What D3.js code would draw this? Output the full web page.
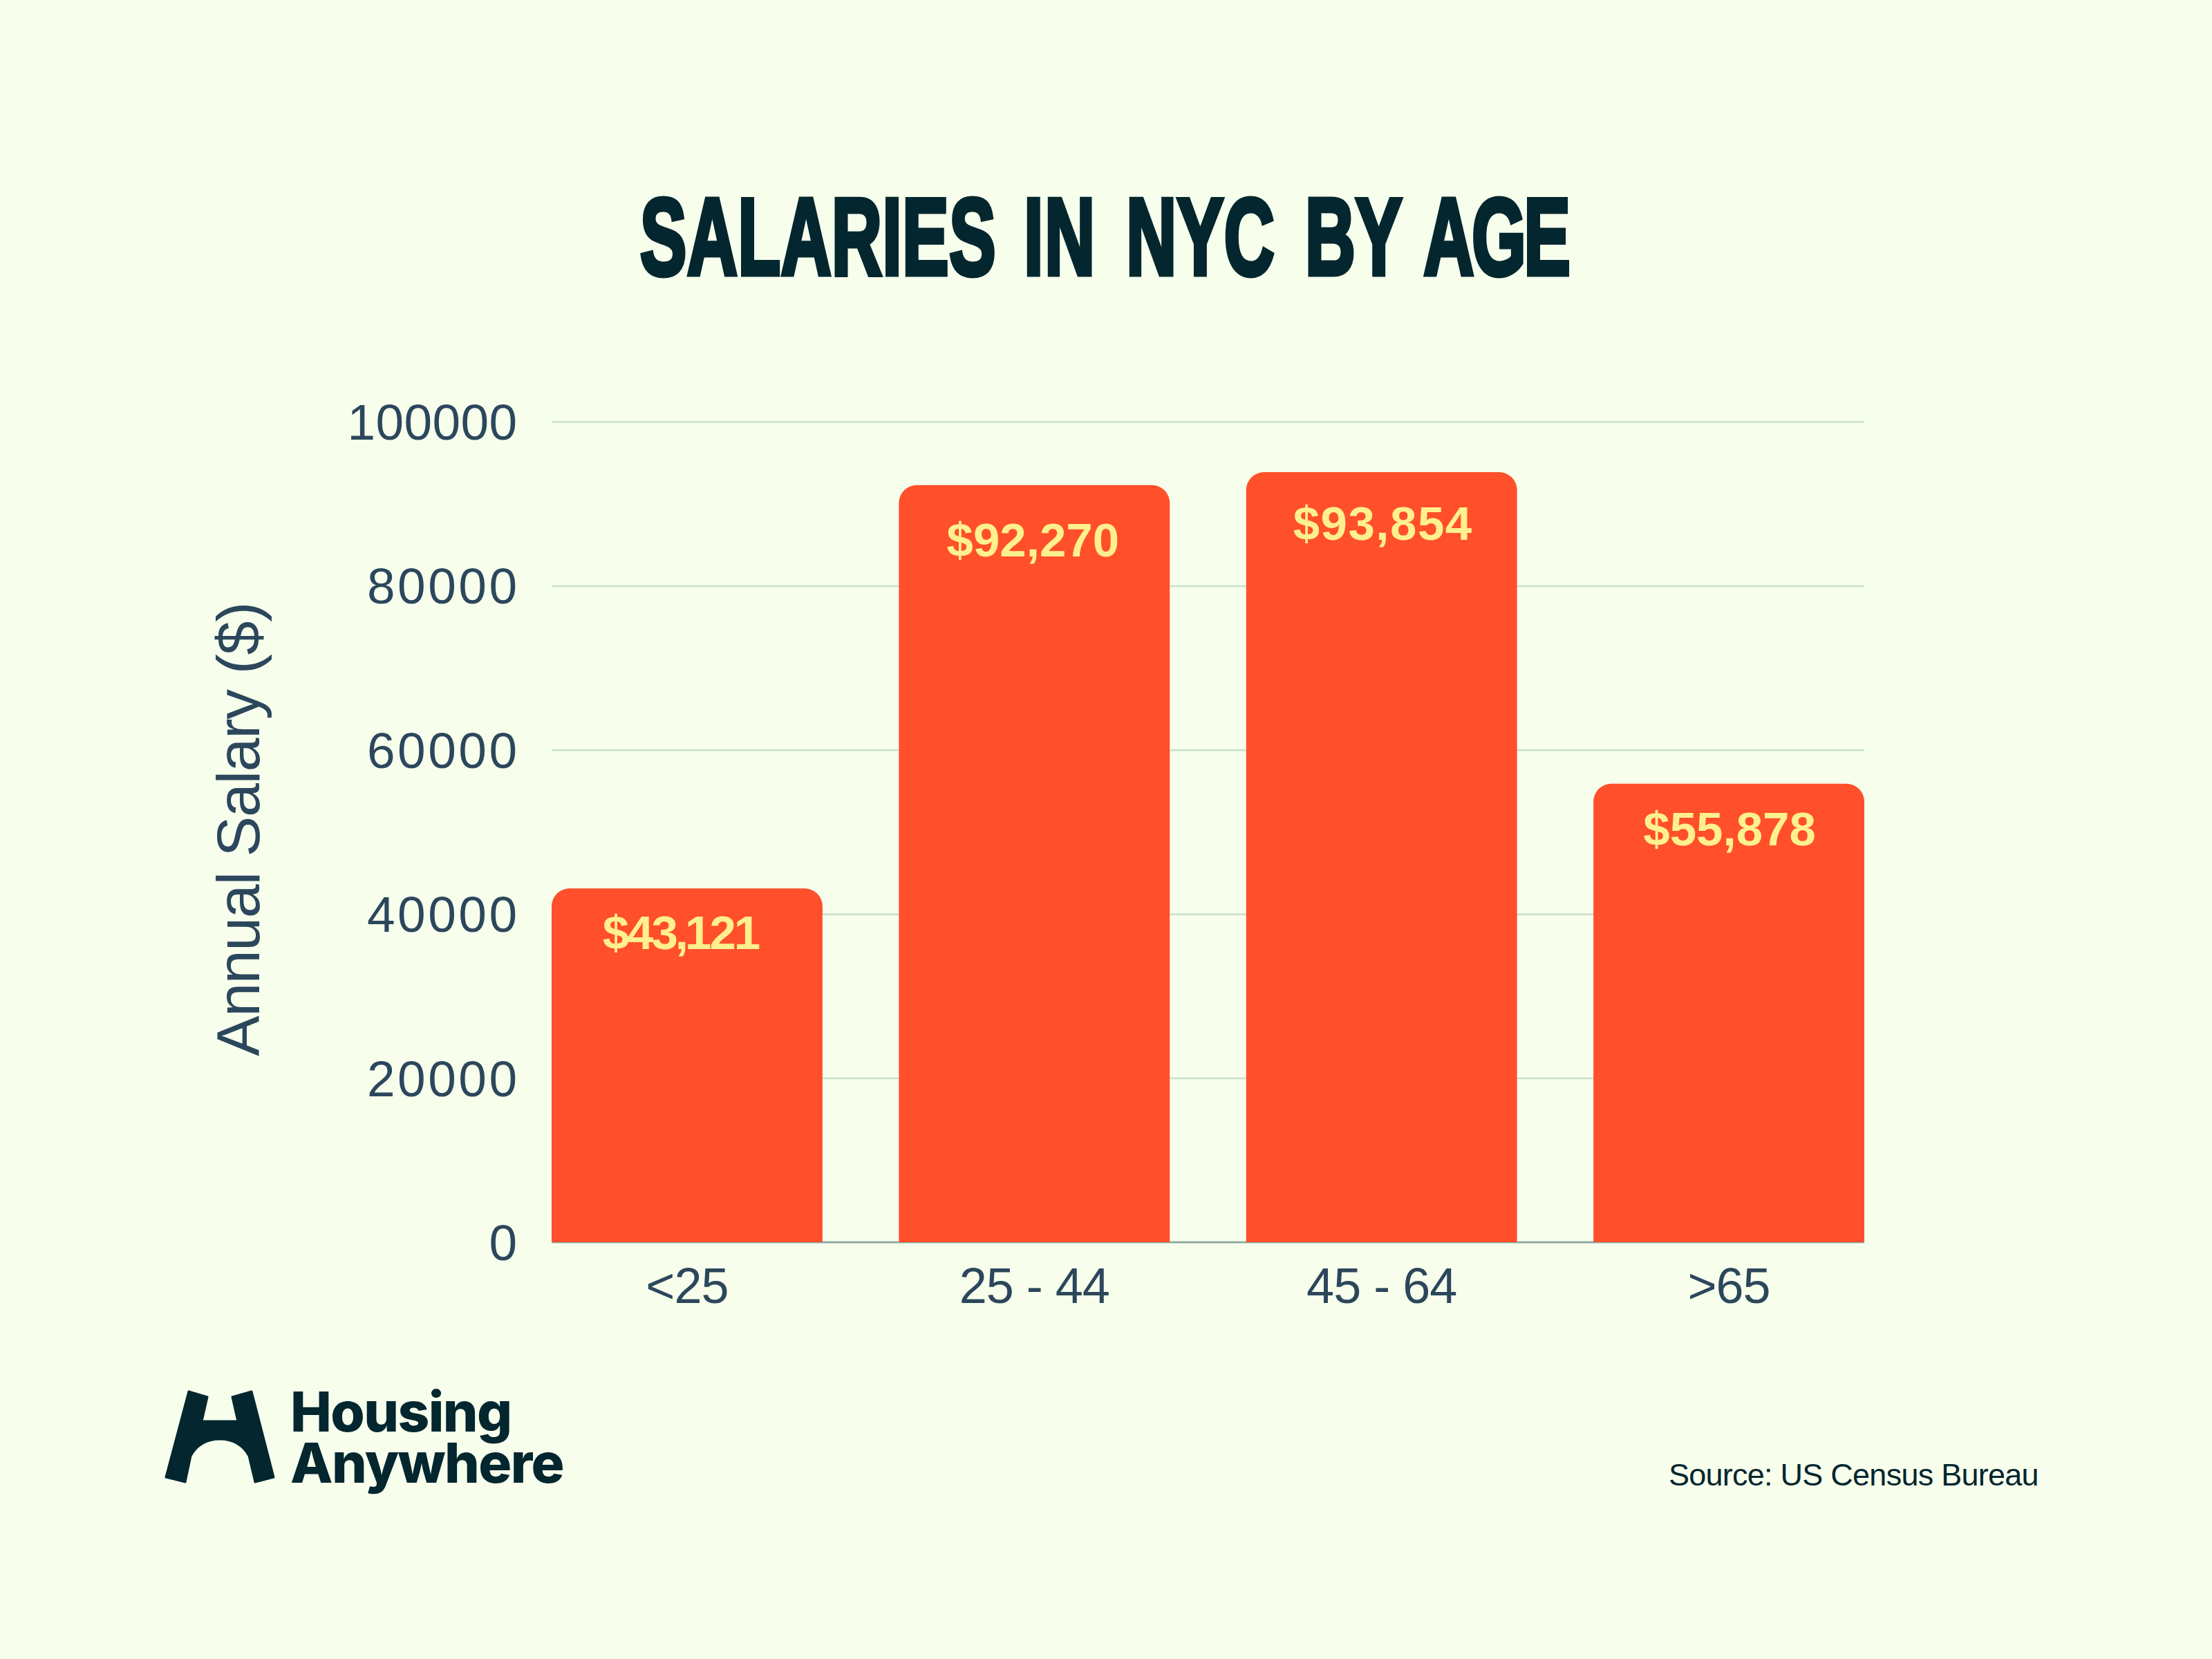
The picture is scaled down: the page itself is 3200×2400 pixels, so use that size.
<!DOCTYPE html>
<html>
<head>
<meta charset="utf-8">
<script src="https://cdn.jsdelivr.net/npm/d3@7"></script>
<style>
  html, body { margin: 0; padding: 0; background: #f7ffec; }
  svg { display: block; }
  text { font-family: "Liberation Sans", Arial, sans-serif; }
</style>
</head>
<body>
<div id="chart"></div>
<script>
// Data
const ageGroups = ["<25", "25 - 44", "45 - 64", ">65"];
const salaries = [43121, 92270, 93854, 55878];
const salaryLabels = ["$43,121", "$92,270", "$93,854", "$55,878"];
const yTicks = [0, 20000, 40000, 60000, 80000, 100000];

// Colours
const ink = "#03262f";
const axisInk = "#2c475c";
const barColor = "#ff4f2b";
const labelColor = "#fff08e";

// Layout
const width = 3200, height = 2400;
const plot = { left: 798, right: 2697, top: 610, bottom: 1797 };
const barRadius = 26;
// labels are hand placed in the original: dx, dy from bar top, letter spacing
const labelNudge = [[-8, 88, 0], [-2, 103, 0], [2, 98, 1.5], [1, 89, 0]];
// the original font has a much narrower 1
const labelKern = ["0 -3 -3 -4 -5 -3 -3", null, null, null];
// per glyph shifts so the words of the title land where the original has them
const titleKern = "0 1 1 1 1 1 1 1 0 0 3 0 7 1 1 0 6 0 0 -6 -5 -5";

const svg = d3.select("#chart").append("svg")
  .attr("width", width)
  .attr("height", height);

svg.append("rect").attr("width", width).attr("height", height).attr("fill", "#f7ffec");

const x = d3.scaleBand()
  .domain(ageGroups)
  .range([plot.left, plot.right])
  .paddingInner(0.22)
  .paddingOuter(0);

const y = d3.scaleLinear()
  .domain([0, 100000])
  .range([plot.bottom, plot.top]);

// Title
const title = svg.append("text")
  .attr("fill", ink)
  .attr("stroke", ink)
  .attr("stroke-width", 7)
  .style("font-family", "'Liberation Sans Narrow', 'Liberation Sans', sans-serif")
  .style("font-weight", 700)
  .style("font-size", "158px")
  .style("word-spacing", "20px")
  .text("SALARIES IN NYC BY AGE");

const titleScale = 1340 / title.node().getComputedTextLength();
title
  .attr("transform", `translate(926,397) scale(${titleScale},1)`)
  .attr("dx", titleKern);

// Gridlines and y tick labels
const yAxis = svg.append("g")
  .attr("transform", `translate(${plot.left},0)`)
  .call(d3.axisLeft(y).tickValues(yTicks).tickFormat(d3.format("d")).tickSize(-(plot.right - plot.left)).tickPadding(50));

const tickSpacing = d => (d === 100000 ? 0.4 : 3.5);

yAxis.select(".domain").remove();
yAxis.selectAll("line").attr("stroke", "#c8e0cd").attr("stroke-width", 2.5);
yAxis.selectAll("text")
  .attr("fill", axisInk)
  .attr("dy", "0.35em")
  .attr("dx", tickSpacing)
  .style("font-size", "73px")
  .style("letter-spacing", d => tickSpacing(d) + "px");

// Baseline
svg.append("line")
  .attr("x1", plot.left).attr("x2", plot.right)
  .attr("y1", y(0)).attr("y2", y(0))
  .attr("stroke", "#8fa3a0")
  .attr("stroke-width", 2.5);

// Bars, rounded on top only
function barPath(d, i) {
  const x0 = x(ageGroups[i]), x1 = x0 + x.bandwidth();
  const top = y(d), bottom = y(0), r = barRadius;
  return `M${x0},${bottom}V${top + r}A${r},${r} 0 0 1 ${x0 + r},${top}H${x1 - r}A${r},${r} 0 0 1 ${x1},${top + r}V${bottom}Z`;
}

svg.selectAll(".bar")
  .data(salaries)
  .enter()
  .append("path")
  .attr("class", "bar")
  .attr("d", barPath)
  .attr("fill", barColor);

svg.selectAll(".bar-label")
  .data(salaryLabels)
  .enter()
  .append("text")
  .attr("class", "bar-label")
  .attr("x", (d, i) => x(ageGroups[i]) + x.bandwidth() / 2 + labelNudge[i][0])
  .attr("y", (d, i) => y(salaries[i]) + labelNudge[i][1])
  .attr("dx", (d, i) => labelKern[i])
  .attr("text-anchor", "middle")
  .attr("fill", labelColor)
  .style("font-weight", 700)
  .style("font-size", "69px")
  .style("letter-spacing", (d, i) => labelNudge[i][2] + "px")
  .text(d => d);

// X axis labels
const xAxis = svg.append("g")
  .attr("transform", `translate(0,${plot.bottom})`)
  .call(d3.axisBottom(x).tickSize(0).tickPadding(37));

xAxis.select(".domain").remove();
xAxis.selectAll("text")
  .attr("fill", axisInk)
  .style("font-size", "72px")
  .style("letter-spacing", "-1px");

// Y axis title
svg.append("text")
  .attr("transform", "translate(375,1200) rotate(-90)")
  .attr("text-anchor", "middle")
  .attr("fill", axisInk)
  .style("font-size", "88px")
  .style("letter-spacing", "-1.4px")
  .text("Annual Salary ($)");

// Logo
svg.append("path")
  .attr("d", "M273,2013L300,2021L292,2056H344L336,2021L364,2013L396,2137L369,2144L360,2106C352,2092 338,2082 318,2082C298,2082 284,2092 276,2106L268,2144L240,2137Z")
  .attr("fill", ink)
  .attr("stroke", ink)
  .attr("stroke-width", 3)
  .attr("stroke-linejoin", "round");

const logoLines = [["Housing", 2071], ["Anywhere", 2145]];
svg.selectAll(".logo-text")
  .data(logoLines)
  .enter()
  .append("text")
  .attr("class", "logo-text")
  .attr("x", 420)
  .attr("y", d => d[1])
  .attr("fill", ink)
  .style("font-family", "Inter, sans-serif")
  .style("font-weight", 800)
  .style("font-size", "80px")
  .style("letter-spacing", "-1.6px")
  .text(d => d[0]);

// Source
svg.append("text")
  .attr("x", 2414).attr("y", 2149)
  .attr("fill", ink)
  .style("font-size", "45px")
  .style("letter-spacing", "-0.75px")
  .text("Source: US Census Bureau");
</script>
</body>
</html>
